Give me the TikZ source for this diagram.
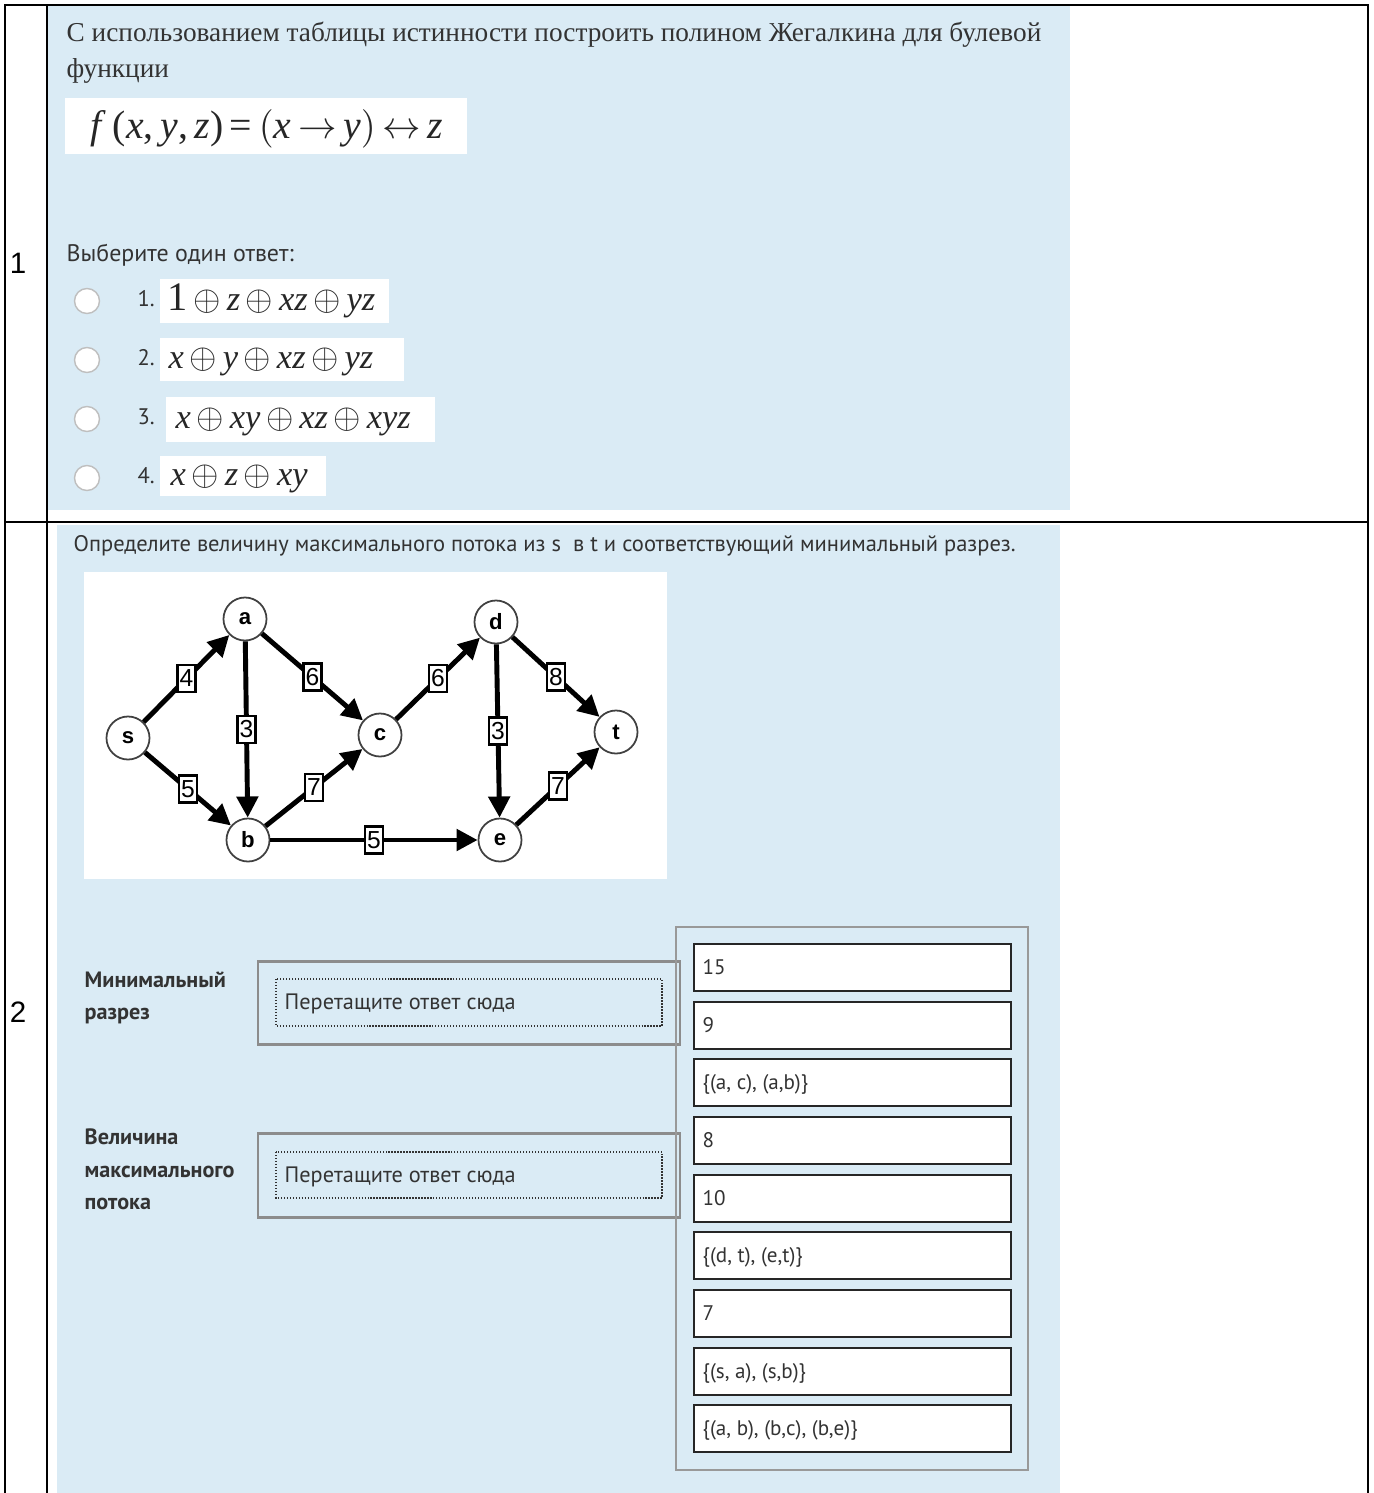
\documentclass[tikz,border=0pt]{standalone}
\usepackage{fontspec}
\setmainfont{Liberation Serif}
\newfontfamily\ptsans{PT Sans}
\newfontfamily\arial{Liberation Sans}
\usetikzlibrary{arrows.meta}
\definecolor{panel}{RGB}{218,235,245}
\definecolor{ink}{RGB}{51,51,51}
\definecolor{frame}{RGB}{140,140,140}
\newcommand\xo{\,$\oplus$\,}
\newcommand\iv[1]{\textit{#1}}
\begin{document}
\begin{tikzpicture}[x=0.01cm, y=-0.01cm,
    rule/.style={line width=0.7pt},
    txt/.style={anchor=base west, inner sep=0pt, text=ink},
    serif/.style={txt, font=\fontsize{7.76}{9}\selectfont},
    sans/.style={txt, font=\ptsans\fontsize{6}{7}\selectfont},
    bsans/.style={txt, font=\ptsans\bfseries\fontsize{6.3}{7}\selectfont},
    fml/.style={anchor=base west, inner sep=0pt, text=black!85, font=\fontsize{9.8}{10}\selectfont},
    radio/.style={circle, draw=black!25, fill=white, minimum size=0.25cm, inner sep=0pt},
    vertex/.style={circle, draw=black!75, fill=white, line width=0.5pt, minimum size=0.43cm,
        inner sep=0pt, font=\arial\bfseries\fontsize{6.3}{7}\selectfont},
    edge/.style={-{Triangle[length=6pt,width=6pt]}, line width=1.4pt},
    wt/.style={draw, fill=white, line width=0.6pt, inner sep=0.5pt, minimum height=0.27cm,
        minimum width=0.18cm, font=\arial\fontsize{7}{7}\selectfont},
    drop/.style={draw=frame, line width=0.85pt},
    slot/.style={draw=black!80, line width=0.35pt, dash pattern=on 0.35pt off 0.5pt},
    answer/.style={draw=black!85, fill=white, line width=0.55pt}
]
    \useasboundingbox (0,0) rectangle (1374,1493);
    \fill[white] (0,0) rectangle (1374,1493);

    % panels
    \fill[panel] (48,6) rectangle (1070,510);
    \fill[panel] (57,525) rectangle (1060,1493);

    % table
    \draw[rule] (5,1493) -- (5,5) -- (1368,5) -- (1368,1493);
    \draw[rule] (47,5) -- (47,1493);
    \draw[rule] (5,522) -- (1368,522);
    \node[anchor=base, inner sep=0pt, font=\arial\fontsize{8.4}{9}\selectfont] (n1) at (18,273) {1};
    \node[anchor=base, inner sep=0pt, font=\arial\fontsize{8.4}{9}\selectfont] (n2) at (18,1022) {2};

    % question 1
    \node[serif] (q1a) at (66,41) {С использованием таблицы истинности построить полином Жегалкина для булевой};
    \node[serif] (q1b) at (66,77) {функции};
    \fill[white] (65,98) rectangle (467,154);
    \node[fml, font=\fontsize{11.3}{12}\selectfont] (fx) at (90,138)
        {\iv{f}\,(\iv{x},\,\iv{y},\,\iv{z})\,=\,$\bigl($\iv{x}\,$\rightarrow$\,\iv{y}$\bigr)$\,$\leftrightarrow$\,\iv{z}};
    \node[sans, font=\ptsans\fontsize{6.8}{7}\selectfont] (pick) at (66,261) {Выберите один ответ:};

    \node[radio] (r1) at (87,301) {};
    \node[radio] (r2) at (87,360) {};
    \node[radio] (r3) at (87,419) {};
    \node[radio] (r4) at (87,478) {};
    \node[sans, font=\ptsans\fontsize{6.4}{7}\selectfont] (l1) at (137,306) {1.};
    \node[sans, font=\ptsans\fontsize{6.4}{7}\selectfont] (l2) at (137,365) {2.};
    \node[sans, font=\ptsans\fontsize{6.4}{7}\selectfont] (l3) at (137,424) {3.};
    \node[sans, font=\ptsans\fontsize{6.4}{7}\selectfont] (l4) at (137,483) {4.};
    \fill[white] (160,279) rectangle (389,323);
    \fill[white] (160,338) rectangle (404,381);
    \fill[white] (166,397) rectangle (435,442);
    \fill[white] (160,456) rectangle (326,496);
    \node[fml] (o1) at (167,310) {{\fontsize{11.5}{11}\selectfont 1}\xo\iv{z}\xo\iv{xz}\xo\iv{yz}};
    \node[fml] (o2) at (168,368) {\iv{x}\xo\iv{y}\xo\iv{xz}\xo\iv{yz}};
    \node[fml] (o3) at (175,428) {\iv{x}\xo\iv{xy}\xo\iv{xz}\xo\iv{xyz}};
    \node[fml] (o4) at (170,485) {\iv{x}\xo\iv{z}\xo\iv{xy}};

    % question 2
    \node[sans, font=\ptsans\fontsize{6.4}{7}\selectfont] (q2) at (73,551)
        {Определите величину максимального потока из s \ в t и соответствующий минимальный разрез.};
    \fill[white] (84,572) rectangle (667,879);

    % network
    \node[vertex] (s) at (128,738) {s};
    \node[vertex] (a) at (245,619) {a};
    \node[vertex] (b) at (248,840) {b};
    \node[vertex] (c) at (380,735) {c};
    \node[vertex] (d) at (496,622) {d};
    \node[vertex] (e) at (500,840) {e};
    \node[vertex] (t) at (616,732) {t};
    \draw[edge] (s) -- node[wt] {4} (a);
    \draw[edge] (s) -- node[wt] {5} (b);
    \draw[edge] (a) -- node[wt] {3} (b);
    \draw[edge] (a) -- node[wt] {6} (c);
    \draw[edge] (b) -- node[wt] {7} (c);
    \draw[edge] (b) -- node[wt] {5} (e);
    \draw[edge] (c) -- node[wt] {6} (d);
    \draw[edge] (d) -- node[wt] {3} (e);
    \draw[edge] (d) -- node[wt] {8} (t);
    \draw[edge] (e) -- node[wt] {7} (t);

    % drop zones
    \node[bsans] (cut1) at (84,987) {Минимальный};
    \node[bsans] (cut2) at (84,1019) {разрез};
    \node[bsans] (flow1) at (84,1144) {Величина};
    \node[bsans] (flow2) at (84,1177) {максимального};
    \node[bsans] (flow3) at (84,1209) {потока};
    \draw[drop] (258,961) rectangle (680,1044);
    \draw[slot] (276,979) rectangle (662,1026);
    \node[sans, font=\ptsans\fontsize{6.34}{7}\selectfont] (slot1) at (284,1009) {Перетащите ответ сюда};
    \draw[drop] (258,1133) rectangle (680,1217);
    \draw[slot] (276,1152) rectangle (662,1198);
    \node[sans, font=\ptsans\fontsize{6.34}{7}\selectfont] (slot2) at (284,1182) {Перетащите ответ сюда};

    % answers
    \draw[draw=black!40, line width=0.55pt] (676,927) rectangle (1028,1470);
    \draw[answer] (694,944) rectangle (1011,991);
    \draw[answer] (694,1002) rectangle (1011,1049);
    \draw[answer] (694,1059) rectangle (1011,1106);
    \draw[answer] (694,1117) rectangle (1011,1164);
    \draw[answer] (694,1175) rectangle (1011,1222);
    \draw[answer] (694,1232) rectangle (1011,1279);
    \draw[answer] (694,1290) rectangle (1011,1337);
    \draw[answer] (694,1348) rectangle (1011,1395);
    \draw[answer] (694,1405) rectangle (1011,1452);
    \node[sans] (v1) at (702,974) {15};
    \node[sans] (v2) at (702,1032) {9};
    \node[sans] (v3) at (702,1089) {\{(a, c), (a,b)\}};
    \node[sans] (v4) at (702,1147) {8};
    \node[sans] (v5) at (702,1205) {10};
    \node[sans] (v6) at (702,1262) {\{(d, t), (e,t)\}};
    \node[sans] (v7) at (702,1320) {7};
    \node[sans] (v8) at (702,1378) {\{(s, a), (s,b)\}};
    \node[sans] (v9) at (702,1435) {\{(a, b), (b,c), (b,e)\}};
\end{tikzpicture}
\end{document}
